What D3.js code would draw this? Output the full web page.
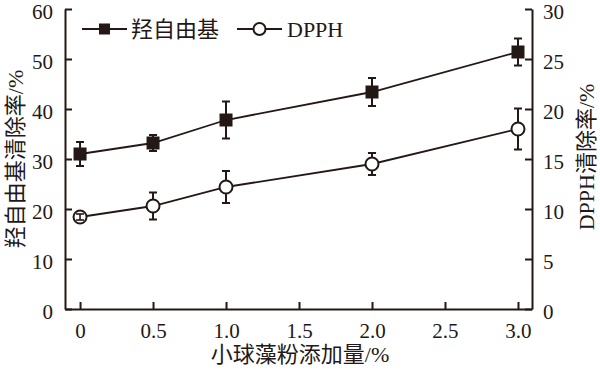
<!DOCTYPE html>
<html>
<head>
<meta charset="utf-8">
<script src="https://cdn.jsdelivr.net/npm/d3@7"></script>
<style>
  body { margin: 0; background: #fff; }
  svg text { font-family: "Liberation Serif", "Noto Sans CJK SC", serif; fill: #231815; }
</style>
</head>
<body>
<svg id="chart" width="600" height="370"></svg>
<script>
const doses = [0, 0.5, 1.0, 2.0, 3.0];
const hydroxyl = [31.0, 33.2, 37.8, 43.4, 51.4];
const hydroxylErr = [2.4, 1.6, 3.7, 2.8, 2.7];
const dpph = [9.2, 10.3, 12.2, 14.5, 18.0];
const dpphErr = [0.3, 1.35, 1.6, 1.1, 2.05];
const xTicks = [0, 0.5, 1.0, 1.5, 2.0, 2.5, 3.0];
const leftTicks = [0, 10, 20, 30, 40, 50, 60];
const rightTicks = [0, 5, 10, 15, 20, 25, 30];

const ink = "#231815";
const svg = d3.select("#chart");
const plotL = 65, plotR = 532, plotT = 9, plotB = 309;

const x = d3.scaleLinear().domain([-0.103, 3.096]).range([plotL, plotR]);
const yL = d3.scaleLinear().domain([0, 60]).range([plotB, plotT]);
const yR = d3.scaleLinear().domain([0, 30]).range([plotB, plotT]);

// axes, ticks pointing inward
const xAxis = d3.axisBottom(x).tickValues(xTicks).tickSizeInner(-7).tickSizeOuter(0)
  .tickPadding(14).tickFormat(d => d === 0 ? "0" : d3.format(".1f")(d));
const lAxis = d3.axisLeft(yL).tickValues(leftTicks).tickSizeInner(-7).tickSizeOuter(0).tickPadding(12);
const rAxis = d3.axisRight(yR).tickValues(rightTicks).tickSizeInner(-7).tickSizeOuter(0).tickPadding(11);

function style(g) {
  g.select(".domain").attr("stroke", ink).attr("stroke-width", 2);
  g.selectAll(".tick line").attr("stroke", ink).attr("stroke-width", 2);
  g.selectAll(".tick text").attr("font-size", 21).style("fill", ink);
}

svg.append("g").attr("transform", `translate(0,${plotB})`).call(xAxis).call(style);
svg.append("g").attr("transform", `translate(${plotL},0)`).call(lAxis).call(style)
  .selectAll(".tick text").attr("dy", "0.47em");
svg.append("g").attr("transform", `translate(${plotR},0)`).call(rAxis).call(style)
  .selectAll(".tick text").attr("dy", "0.47em");

// axis titles
svg.append("text").attr("x", 300).attr("y", 362).attr("text-anchor", "middle")
  .attr("font-size", 22).text("小球藻粉添加量/%");
svg.append("text").attr("transform", "translate(23,159) rotate(-90)").attr("text-anchor", "middle")
  .attr("font-size", 22).text("羟自由基清除率/%");
svg.append("text").attr("transform", "translate(594,157) rotate(-90)").attr("text-anchor", "middle")
  .attr("font-size", 22).text("DPPH清除率/%");

const line = d3.line();
const R = 6.5, S = 12, cap = 4;

function series(vals, errs, y, shape) {
  const pts = doses.map((d, i) => [x(d), y(vals[i])]);
  svg.append("path").attr("d", line(pts)).attr("fill", "none")
    .attr("stroke", ink).attr("stroke-width", 1.8);
  const g = svg.append("g");
  doses.forEach((d, i) => {
    const cx = x(d), cy = y(vals[i]);
    const y1 = y(vals[i] + errs[i]), y2 = y(vals[i] - errs[i]);
    const eb = g.append("g").attr("stroke", ink).attr("stroke-width", 2);
    const inner = shape === "circle" ? R : S / 2;
    if (cy - y1 > inner) {
      eb.append("line").attr("x1", cx).attr("x2", cx).attr("y1", y1).attr("y2", cy - inner);
      eb.append("line").attr("x1", cx).attr("x2", cx).attr("y1", cy + inner).attr("y2", y2);
    }
    eb.append("line").attr("x1", cx - cap).attr("x2", cx + cap).attr("y1", y1).attr("y2", y1);
    eb.append("line").attr("x1", cx - cap).attr("x2", cx + cap).attr("y1", y2).attr("y2", y2);
    if (shape === "circle") {
      g.append("circle").attr("cx", cx).attr("cy", cy).attr("r", R)
        .attr("fill", "#fff").attr("stroke", ink).attr("stroke-width", 2);
      if (cy - y1 <= R) {
        g.append("line").attr("x1", cx).attr("x2", cx).attr("y1", y1).attr("y2", y2)
          .attr("stroke", ink).attr("stroke-width", 1.6);
        g.append("line").attr("x1", cx - cap).attr("x2", cx + cap).attr("y1", y1).attr("y2", y1)
          .attr("stroke", ink).attr("stroke-width", 1.6);
        g.append("line").attr("x1", cx - cap).attr("x2", cx + cap).attr("y1", y2).attr("y2", y2)
          .attr("stroke", ink).attr("stroke-width", 1.6);
      }
    } else {
      g.append("rect").attr("x", cx - S / 2).attr("y", cy - S / 2).attr("width", S).attr("height", S)
        .attr("fill", ink).attr("stroke", ink).attr("stroke-width", 1);
    }
  });
}

series(hydroxyl, hydroxylErr, yL, "square");
series(dpph, dpphErr, yR, "circle");

// legend
const legend = [
  { label: "羟自由基", shape: "square", x0: 82, x1: 127, tx: 131 },
  { label: "DPPH", shape: "circle", x0: 237, x1: 282, tx: 287 }
];
const ly = 29;
legend.forEach(l => {
  const g = svg.append("g");
  g.append("line").attr("x1", l.x0).attr("x2", l.x1).attr("y1", ly).attr("y2", ly)
    .attr("stroke", ink).attr("stroke-width", 2);
  const cx = (l.x0 + l.x1) / 2;
  if (l.shape === "square") {
    g.append("rect").attr("x", cx - 5.5).attr("y", ly - 5.5).attr("width", 11).attr("height", 11).attr("fill", ink);
  } else {
    g.append("circle").attr("cx", cx).attr("cy", ly).attr("r", 6).attr("fill", "#fff")
      .attr("stroke", ink).attr("stroke-width", 2);
  }
  g.append("text").attr("x", l.tx).attr("y", ly + 8).attr("font-size", 22).text(l.label);
});
</script>
</body>
</html>
